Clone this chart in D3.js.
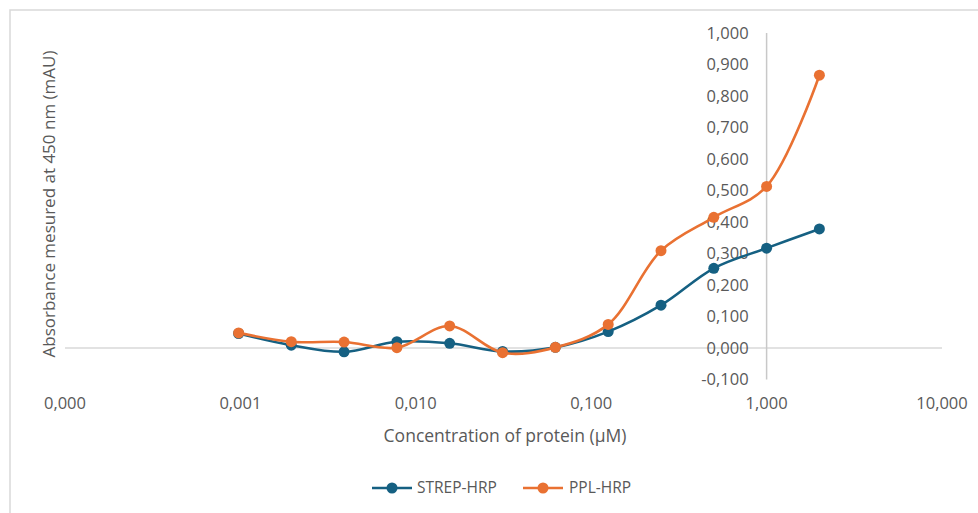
<!DOCTYPE html>
<html>
<head>
<meta charset="utf-8">
<script src="https://cdn.jsdelivr.net/npm/d3@7"></script>
<style>
  html, body { margin: 0; padding: 0; background: #ffffff; }
  svg { display: block; font-family: "Open Sans", "Liberation Sans", sans-serif; }
</style>
</head>
<body>
<svg id="chart" width="978" height="513"></svg>
<script>
// Two-fold dilution series of protein concentration (µM)
const concentrations = [0.000977, 0.00195, 0.0039, 0.0078, 0.0156, 0.03125, 0.0625, 0.125, 0.25, 0.5, 1, 2];
// Absorbance at 450 nm for each conjugate
const strepHrp = [0.046, 0.009, -0.012, 0.020, 0.015, -0.011, 0.002, 0.052, 0.136, 0.253, 0.317, 0.378];
const pplHrp   = [0.048, 0.020, 0.019, 0.001, 0.070, -0.015, 0.002, 0.075, 0.309, 0.415, 0.513, 0.866];

const seriesNames  = ["STREP-HRP", "PPL-HRP"];
const seriesColors = ["#156082", "#E97132"];

const xTicks = [0.0001, 0.001, 0.01, 0.1, 1, 10];
const yTicks = [-0.1, 0, 0.1, 0.2, 0.3, 0.4, 0.5, 0.6, 0.7, 0.8, 0.9, 1.0];

const xTitle = "Concentration of protein (µM)";
const yTitle = "Absorbance mesured at 450 nm (mAU)";

const svg = d3.select("#chart");
const textColor = "#595959";
const fmt = v => d3.format(".3f")(v).replace("−", "-").replace(".", ",");

// Chart frame
svg.append("rect")
  .attr("x", 10).attr("y", 10)
  .attr("width", 990).attr("height", 520)
  .attr("fill", "#fff")
  .attr("stroke", "#d9d9d9").attr("stroke-width", 1.5);

const x = d3.scaleLog().domain([0.0001, 10]).range([65, 942]);
const y = d3.scaleLinear().domain([-0.1, 1.0]).range([379.5, 33]);

// Horizontal axis along y = 0
svg.append("line")
  .attr("x1", x.range()[0]).attr("x2", x.range()[1])
  .attr("y1", y(0)).attr("y2", y(0))
  .attr("stroke", "#d9d9d9").attr("stroke-width", 1.5);

// Vertical axis crossing at x = 1
svg.append("line")
  .attr("x1", x(1)).attr("x2", x(1))
  .attr("y1", y(1.0)).attr("y2", y(-0.1))
  .attr("stroke", "#c8c8c8").attr("stroke-width", 1.5);

// X tick labels, placed below the plot
svg.append("g").selectAll("text")
  .data(xTicks).join("text")
  .attr("x", d => x(d))
  .attr("y", 409)
  .attr("text-anchor", "middle")
  .attr("font-size", 16.5)
  .attr("fill", textColor)
  .text(fmt);

// Y tick labels to the left of the vertical axis
svg.append("g").selectAll("text")
  .data(yTicks).join("text")
  .attr("x", x(1) - 18)
  .attr("y", d => y(d))
  .attr("dy", "0.35em")
  .attr("text-anchor", "end")
  .attr("font-size", 16.5)
  .attr("fill", textColor)
  .text(fmt);

// Axis titles
svg.append("text")
  .attr("x", 505).attr("y", 442)
  .attr("text-anchor", "middle")
  .attr("font-size", 17.5)
  .attr("fill", textColor)
  .text(xTitle);

svg.append("text")
  .attr("transform", "translate(55,204) rotate(-90)")
  .attr("text-anchor", "middle")
  .attr("font-size", 17)
  .attr("fill", textColor)
  .text(yTitle);

// Series
const series = [strepHrp, pplHrp];
const line = d3.line()
  .x(d => x(d[0]))
  .y(d => y(d[1]))
  .curve(d3.curveCatmullRom.alpha(0.5));

series.forEach((vals, i) => {
  const pts = concentrations.map((c, j) => [c, vals[j]]);
  const g = svg.append("g");
  g.append("path")
    .attr("d", line(pts))
    .attr("fill", "none")
    .attr("stroke", seriesColors[i])
    .attr("stroke-width", 2.6)
    .attr("stroke-linejoin", "round");
  g.selectAll("circle")
    .data(pts).join("circle")
    .attr("cx", d => x(d[0]))
    .attr("cy", d => y(d[1]))
    .attr("r", 5.5)
    .attr("fill", seriesColors[i]);
});

// Legend
const legendItems = [
  { x: 372, textX: 417 },
  { x: 523, textX: 569 }
];
legendItems.forEach((it, i) => {
  const g = svg.append("g");
  g.append("line")
    .attr("x1", it.x).attr("x2", it.x + 40)
    .attr("y1", 488).attr("y2", 488)
    .attr("stroke", seriesColors[i]).attr("stroke-width", 2.6);
  g.append("circle")
    .attr("cx", it.x + 20).attr("cy", 488).attr("r", 5.5)
    .attr("fill", seriesColors[i]);
  g.append("text")
    .attr("x", it.textX).attr("y", 488)
    .attr("dy", "0.35em")
    .attr("font-size", 15.5)
    .attr("fill", textColor)
    .text(seriesNames[i]);
});
</script>
</body>
</html>
